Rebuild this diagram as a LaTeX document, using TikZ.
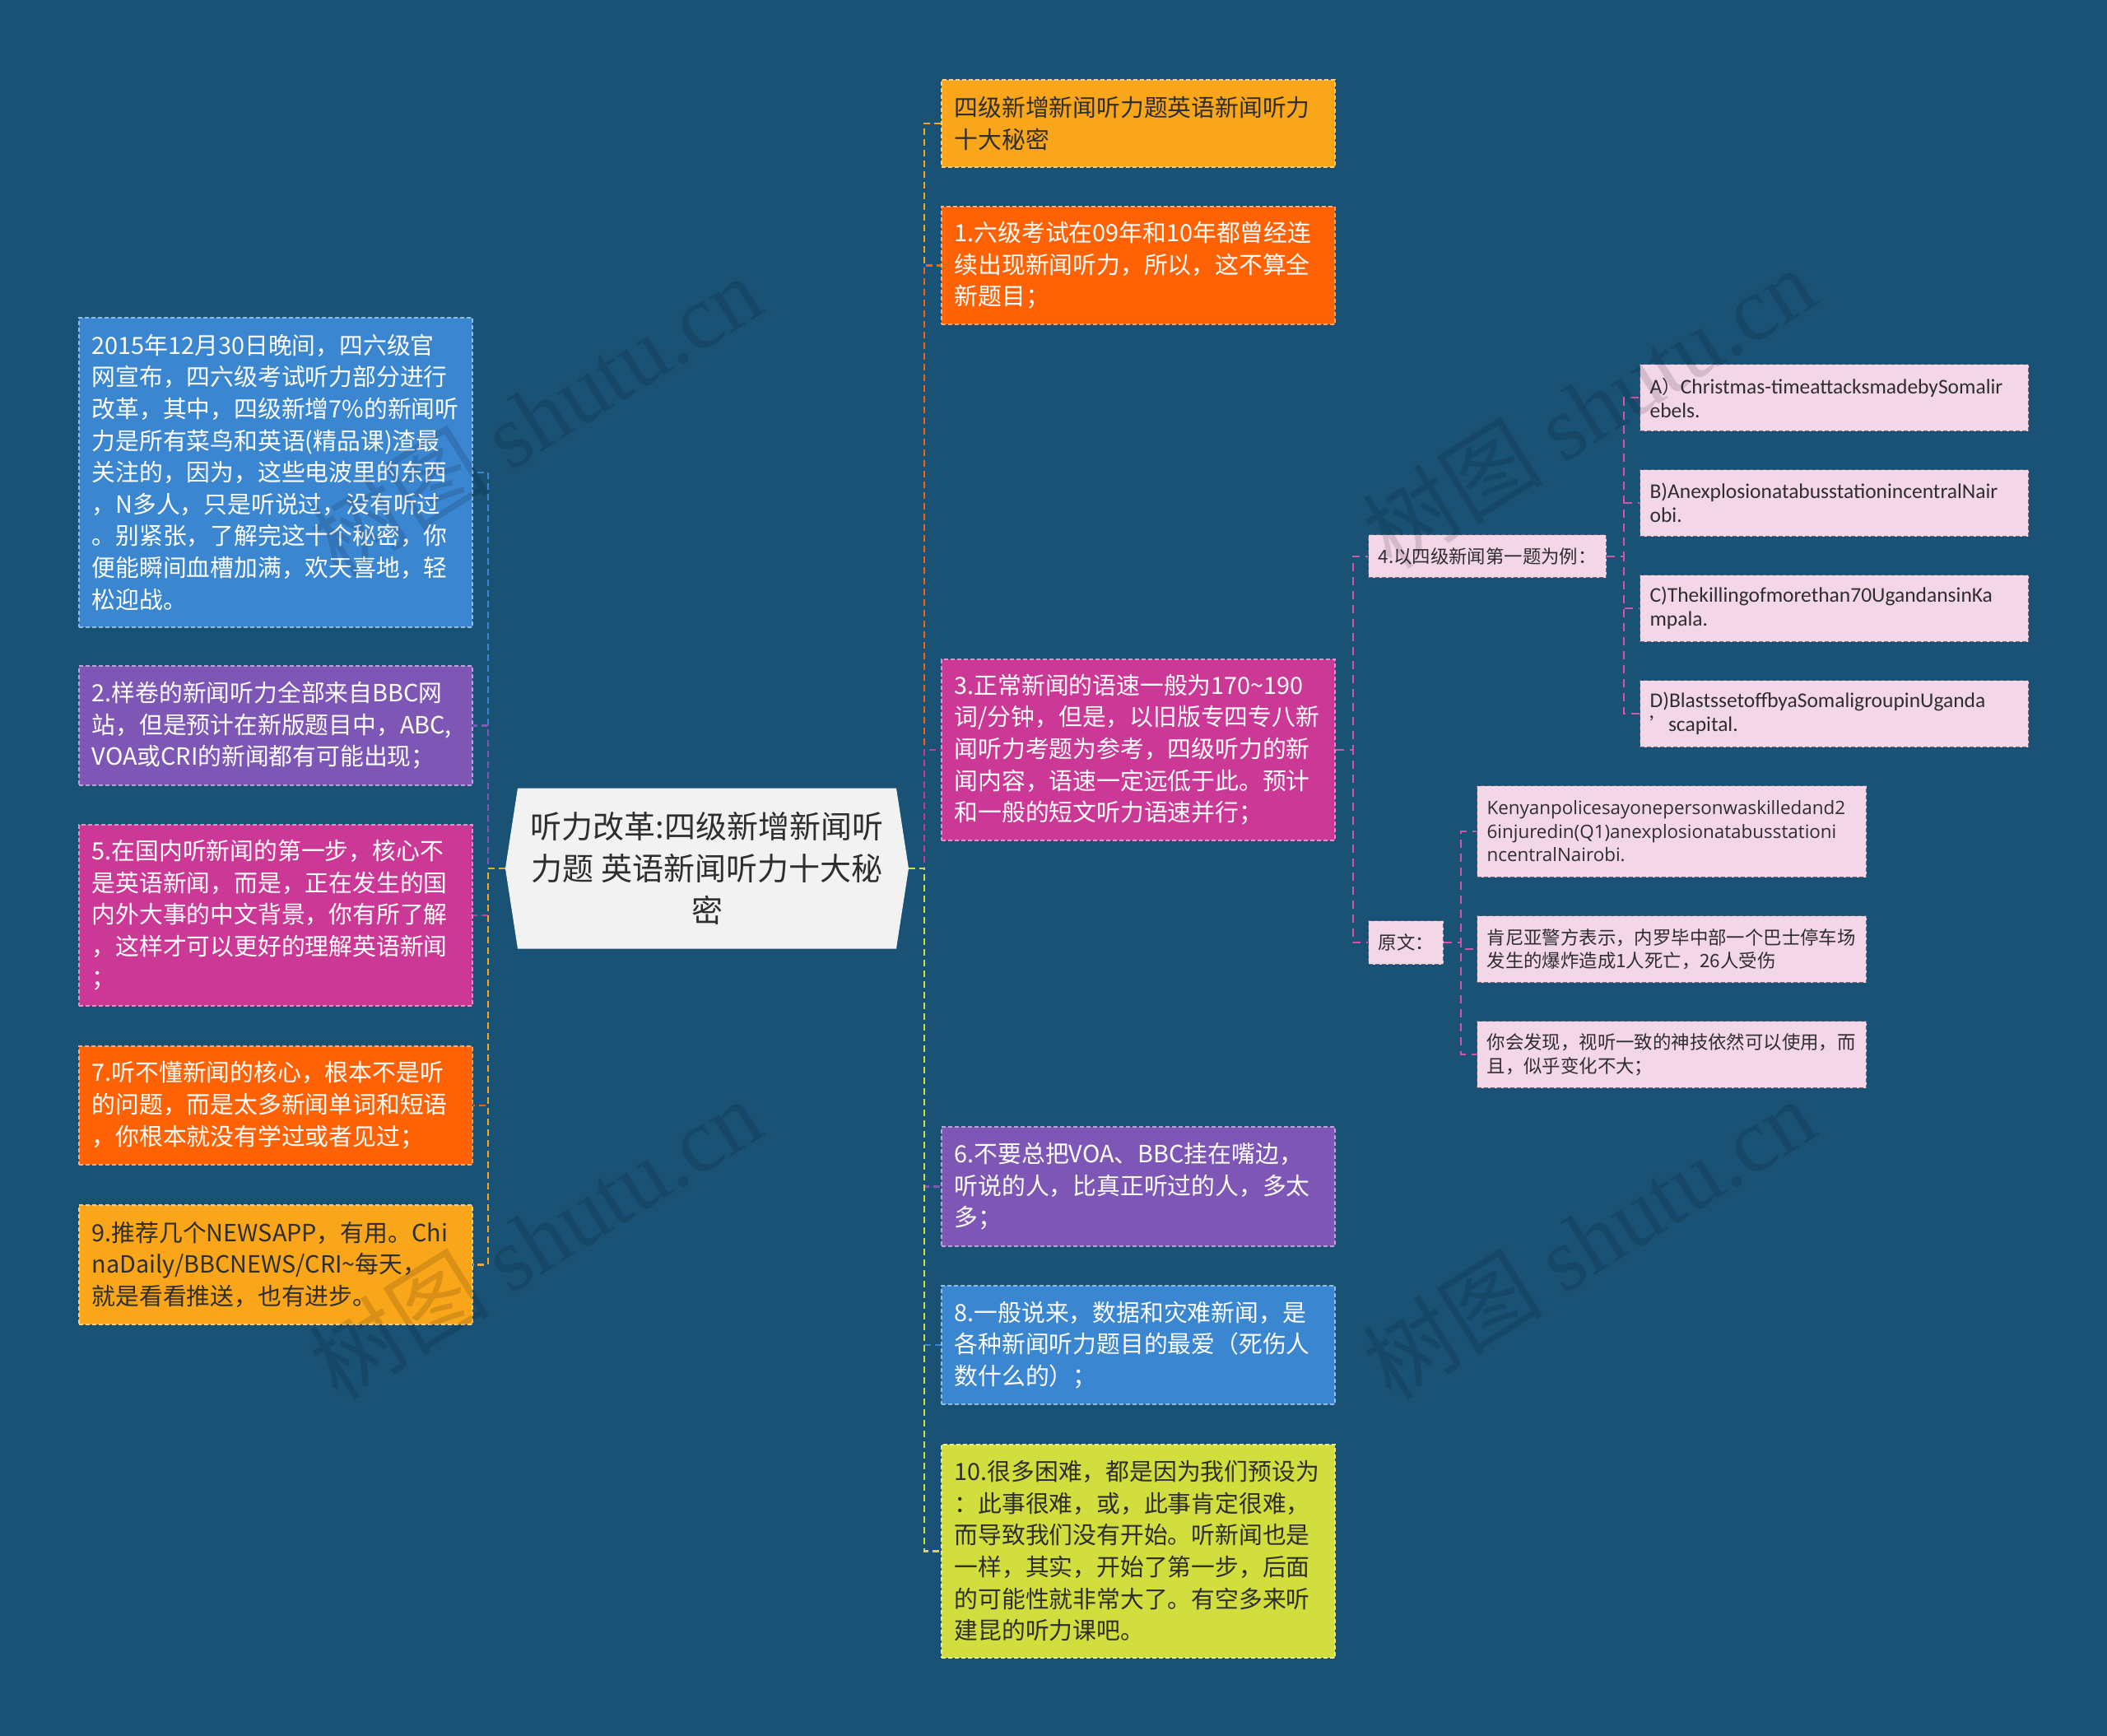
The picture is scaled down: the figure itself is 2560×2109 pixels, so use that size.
\documentclass[tikz,border=0pt]{standalone}
\usepackage{fontspec}
\setmainfont{Noto Sans CJK SC}
\newfontfamily\carlitofont{Carlito}
\newfontfamily\opensansfont{Open Sans}
\newfontfamily\wmlatin{Liberation Serif}
\usetikzlibrary{shapes.symbols}
\definecolor{bgc}{HTML}{1A5276}
\definecolor{cOrange}{HTML}{FAA61A}
\definecolor{cRed}{HTML}{FF6205}
\definecolor{cMag}{HTML}{CB3896}
\definecolor{cPur}{HTML}{7E57B6}
\definecolor{cBlue}{HTML}{3A86D0}
\definecolor{cLime}{HTML}{D2DE3E}
\definecolor{cPink}{HTML}{F4D6E9}
\definecolor{cPinkLine}{HTML}{6A6478}
\definecolor{cCenter}{HTML}{F2F2F2}
\definecolor{cDark}{HTML}{2E2E2E}
\hyphenpenalty=10000
\exhyphenpenalty=10000
\begin{document}
\begin{tikzpicture}[x=1pt,y=-1pt,
  box/.style 2 args={anchor=north west, inner xsep=16pt, inner ysep=0pt, text width=446pt,
    align=left, font=\fontsize{28.8}{38.6}\selectfont, fill=#1, draw=#1!55!white,
    line width=1.5pt, dash pattern=on 5pt off 3pt, text=#2},
  pbox/.style={anchor=north west, inner xsep=12pt, inner ysep=0pt, align=left,
    font=\fontsize{22.4}{28.5}\selectfont, fill=cPink, draw=cPinkLine,
    line width=1.2pt, dash pattern=on 5pt off 3pt, text=cDark},
  latbox/.style={font=\carlitofont\fontsize{25.5}{29}\selectfont},
  conn/.style={draw=#1, line width=2.5pt, dash pattern=on 8pt off 5pt},
  pconn/.style={draw=cMag!85!white, line width=2pt, dash pattern=on 10pt off 7pt},
  wm/.style={text=black, text opacity=0.13, font=\fontsize{110}{110}\selectfont, rotate=32, inner sep=0pt}
]
\useasboundingbox (0,0) rectangle (2560,2109);
\fill[bgc] (0,0) rectangle (2560,2109);

% central node
\node[signal, signal to=east and west, signal pointer angle=162.5, fill=cCenter,
  minimum width=490pt, minimum height=195pt, inner sep=4pt, text=cDark, align=center,
  font=\fontsize{38}{51}\selectfont] (c) at (859,1055)
  {听力改革:四级新增新闻听\\力题 英语新闻听力十大秘\\密};

% right column
\node[box={cOrange}{cDark}, minimum height=106pt] (n0) at (1143,96)
  {四级新增新闻听力题英语新闻听力\\十大秘密};
\node[box={cRed}{white}, minimum height=143pt] (n1) at (1143,250)
  {1.六级考试在09年和10年都曾经连\\续出现新闻听力，所以，这不算全\\新题目；};
\node[box={cMag}{white}, minimum height=220pt] (n3) at (1143,800)
  {3.正常新闻的语速一般为170\textasciitilde190\\词/分钟，但是，以旧版专四专八新\\闻听力考题为参考，四级听力的新\\闻内容，语速一定远低于此。预计\\和一般的短文听力语速并行；};
\node[box={cPur}{white}, minimum height=145pt] (n6) at (1143,1368)
  {6.不要总把VOA、BBC挂在嘴边，\\听说的人，比真正听过的人，多太\\多；};
\node[box={cBlue}{white}, minimum height=144pt] (n8) at (1143,1561)
  {8.一般说来，数据和灾难新闻，是\\各种新闻听力题目的最爱（死伤人\\数什么的）；};
\node[box={cLime}{cDark}, minimum height=259pt] (n10) at (1143,1754)
  {10.很多困难，都是因为我们预设为\\：此事很难，或，此事肯定很难，\\而导致我们没有开始。听新闻也是\\一样，其实，开始了第一步，后面\\的可能性就非常大了。有空多来听\\建昆的听力课吧。};

% left column
\node[box={cBlue}{white}, minimum height=376pt] (l0) at (95,385)
  {2015年12月30日晚间，四六级官\\网宣布，四六级考试听力部分进行\\改革，其中，四级新增7\%的新闻听\\力是所有菜鸟和英语(精品课)渣最\\关注的，因为，这些电波里的东西\\，N多人，只是听说过，没有听过\\。别紧张，了解完这十个秘密，你\\便能瞬间血槽加满，欢天喜地，轻\\松迎战。};
\node[box={cPur}{white}, minimum height=145pt] (l2) at (95,808)
  {2.样卷的新闻听力全部来自BBC网\\站，但是预计在新版题目中，ABC,\\VOA或CRI的新闻都有可能出现；};
\node[box={cMag}{white}, minimum height=220pt] (l5) at (95,1001)
  {5.在国内听新闻的第一步，核心不\\是英语新闻，而是，正在发生的国\\内外大事的中文背景，你有所了解\\，这样才可以更好的理解英语新闻\\；};
\node[box={cRed}{white}, minimum height=144pt] (l7) at (95,1270)
  {7.听不懂新闻的核心，根本不是听\\的问题，而是太多新闻单词和短语\\，你根本就没有学过或者见过；};
\node[box={cOrange}{cDark}, minimum height=145pt] (l9) at (95,1463)
  {9.推荐几个NEWSAPP，有用。Chi\\naDaily/BBCNEWS/CRI\textasciitilde 每天，\\就是看看推送，也有进步。};

% pink sub nodes
\node[pbox, text width=265pt, minimum height=52pt] (p4) at (1662,649)
  {4.以四级新闻第一题为例：};
\node[pbox, latbox, text width=448pt, minimum height=81pt] (pa) at (1992,442)
  {\mbox{A{\rmfamily\fontsize{22.4}{29}\selectfont ）}Christmas-timeattacksmadebySomalir}\\ebels.};
\node[pbox, latbox, text width=448pt, minimum height=81pt] (pb) at (1992,570)
  {\mbox{B)AnexplosionatabusstationincentralNair}\\obi.};
\node[pbox, latbox, text width=448pt, minimum height=81pt] (pc) at (1992,698)
  {\mbox{C)Thekillingofmorethan70UgandansinKa}\\mpala.};
\node[pbox, latbox, text width=448pt, minimum height=81pt] (pd) at (1992,826)
  {\mbox{D)BlastssetoffbyaSomaligroupinUganda}\\\mbox{{\rmfamily\fontsize{22.4}{29}\selectfont ’}scapital.}};
\node[pbox, text width=67pt, minimum height=53pt] (yw) at (1662,1118)
  {原文：};
\node[pbox, text width=449pt, minimum height=111pt, font=\opensansfont\fontsize{22.4}{28.5}\selectfont] (k1) at (1794,954)
  {\mbox{Kenyanpolicesayonepersonwaskilledand2}\\\mbox{6injuredin(Q1)anexplosionatabusstationi}\\ncentralNairobi.};
\node[pbox, text width=449pt, minimum height=81pt] (k2) at (1794,1112)
  {肯尼亚警方表示，内罗毕中部一个巴士停车场\\发生的爆炸造成1人死亡，26人受伤};
\node[pbox, text width=449pt, minimum height=81pt] (k3) at (1794,1240)
  {你会发现，视听一致的神技依然可以使用，而\\且，似乎变化不大；};

% connectors right
\draw[conn=cOrange] (c.east) -- ++(19,0) |- (n0.west);
\draw[conn=cRed] (c.east) -- ++(19,0) |- (n1.west);
\draw[conn=cMag] (c.east) -- ++(19,0) |- (n3.west);
\draw[conn=cPur] (c.east) -- ++(19,0) |- (n6.west);
\draw[conn=cBlue] (c.east) -- ++(19,0) |- (n8.west);
\draw[conn=cLime] (c.east) -- ++(19,0) |- (n10.west);
% connectors left
\draw[conn=cBlue] (c.west) -- ++(-21,0) |- (l0.east);
\draw[conn=cPur] (c.west) -- ++(-21,0) |- (l2.east);
\draw[conn=cMag] (c.west) -- ++(-21,0) |- (l5.east);
\draw[conn=cRed] (c.west) -- ++(-21,0) |- (l7.east);
\draw[conn=cOrange] (c.west) -- ++(-21,0) |- (l9.east);
% pink connectors
\draw[pconn] (n3.east) -- ++(21,0) |- (p4.west);
\draw[pconn] (n3.east) -- ++(21,0) |- (yw.west);
\draw[pconn] (p4.east) -- ++(21,0) |- (pa.west);
\draw[pconn] (p4.east) -- ++(21,0) |- (pb.west);
\draw[pconn] (p4.east) -- ++(21,0) |- (pc.west);
\draw[pconn] (p4.east) -- ++(21,0) |- (pd.west);
\draw[pconn] (yw.east) -- ++(21,0) |- (k1.west);
\draw[pconn] (yw.east) -- ++(21,0) |- (k2.west);
\draw[pconn] (yw.east) -- ++(21,0) |- (k3.west);

% watermark
\node[wm] (w1) at (650,505) {树图 {\wmlatin shutu.cn}};
\node[wm] (w2) at (650,1505) {树图 {\wmlatin shutu.cn}};
\node[wm] (w3) at (1930,495) {树图 {\wmlatin shutu.cn}};
\node[wm] (w4) at (1930,1505) {树图 {\wmlatin shutu.cn}};
\end{tikzpicture}
\end{document}
